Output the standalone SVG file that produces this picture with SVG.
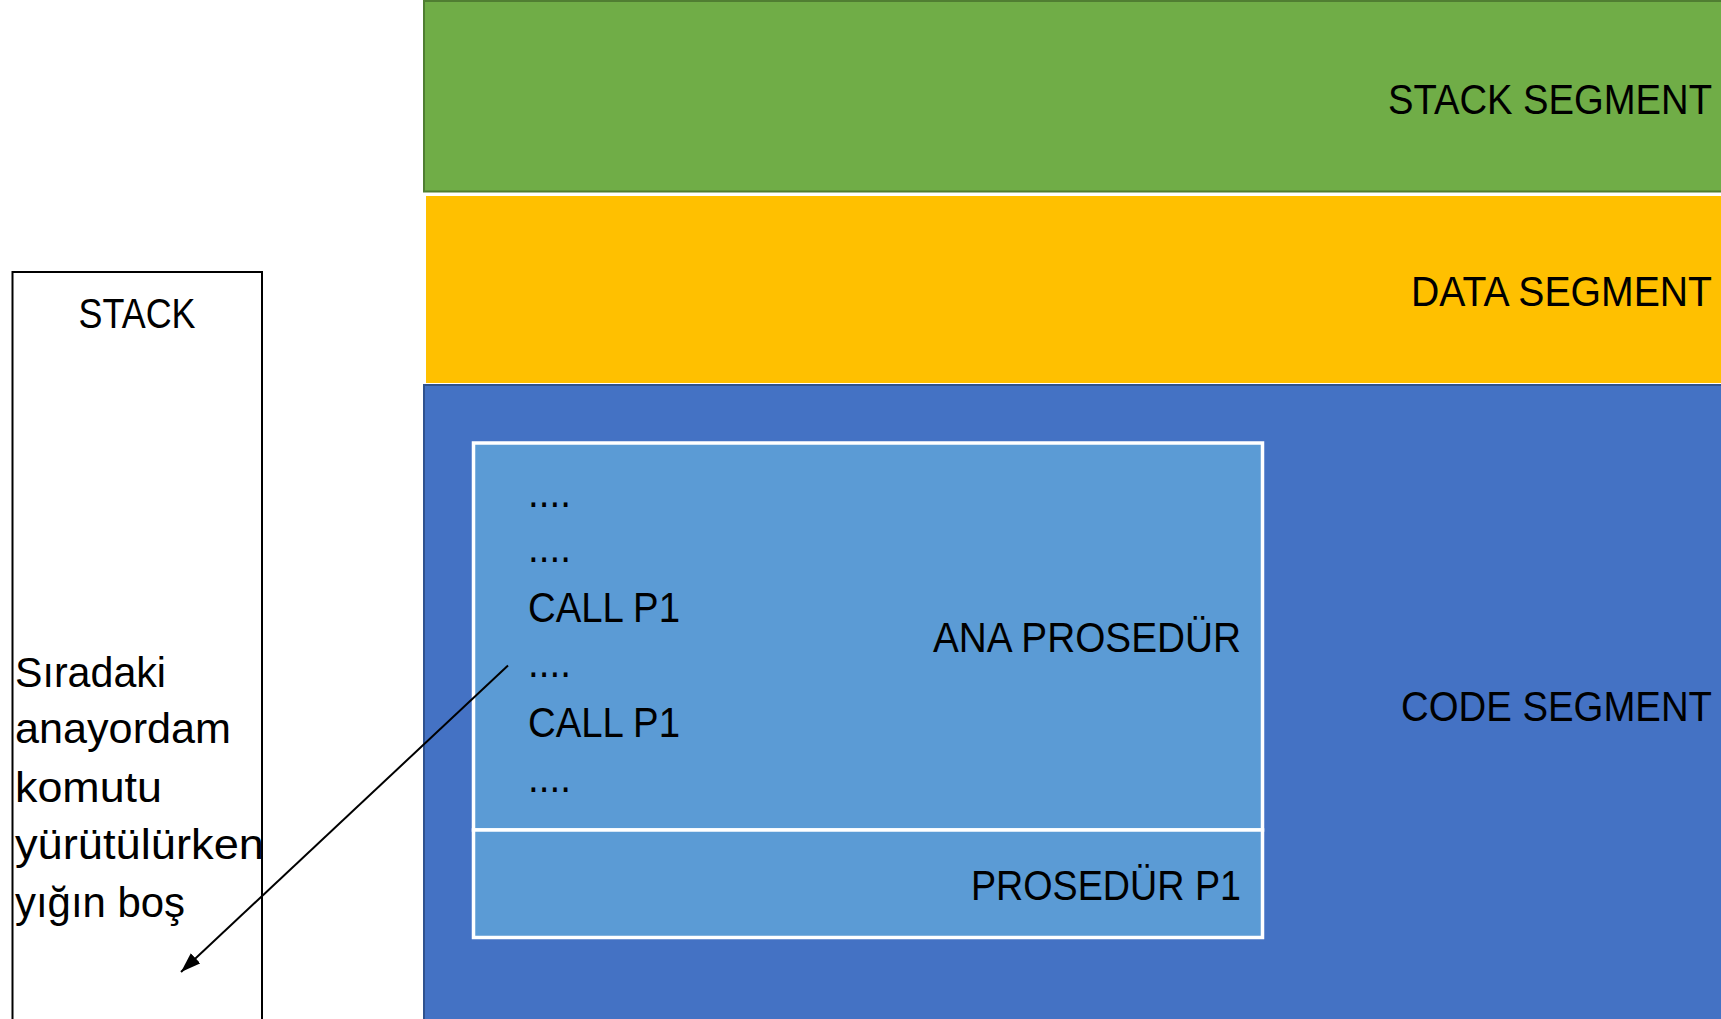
<svg xmlns="http://www.w3.org/2000/svg" width="1721" height="1019" viewBox="0 0 1721 1019">
<style>
.t{font-family:"Liberation Sans",Arial,sans-serif;font-size:43px;fill:#000}
.seg{stroke-width:2}
.proc{fill:#5B9BD5;stroke:#FFFFFF;stroke-width:3.5}
</style>
<defs>
<marker id="arr" viewBox="0 0 10 10" refX="9" refY="5" markerWidth="9" markerHeight="9" markerUnits="userSpaceOnUse" orient="auto">
<path d="M0,0 L10,5 L0,10 z" fill="#000"/>
</marker>
<marker id="arrow" viewBox="0 0 20 14" refX="20" refY="7" markerWidth="20" markerHeight="14" markerUnits="userSpaceOnUse" orient="auto">
<path d="M0,0 L20,7 L0,14 z" fill="#000"/>
</marker>
</defs>
<rect width="1721" height="1019" fill="#FFFFFF"/>
<g id="stack-segment">
<rect x="424" y="1" width="1300" height="190.5" fill="#70AD47" stroke="#507E32" class="seg"/>
<text class="t" x="1388" y="114" textLength="324" lengthAdjust="spacingAndGlyphs">STACK SEGMENT</text>
</g>
<g id="data-segment">
<rect x="426" y="196" width="1298" height="187" fill="#FFC000"/>
<text class="t" x="1411" y="306" textLength="301" lengthAdjust="spacingAndGlyphs">DATA SEGMENT</text>
</g>
<g id="code-segment">
<rect x="424" y="385" width="1300" height="640" fill="#4472C4" stroke="#2F528F" class="seg"/>
<text class="t" x="1401" y="720.5" textLength="311" lengthAdjust="spacingAndGlyphs">CODE SEGMENT</text>
</g>
<g id="ana-prosedur">
<rect x="473.5" y="443" width="789" height="387" class="proc"/>
<text class="t" x="528" y="507" textLength="43" lengthAdjust="spacingAndGlyphs">....</text>
<text class="t" x="528" y="562" textLength="43" lengthAdjust="spacingAndGlyphs">....</text>
<text class="t" x="528" y="622" textLength="152" lengthAdjust="spacingAndGlyphs">CALL P1</text>
<text class="t" x="528" y="677" textLength="43" lengthAdjust="spacingAndGlyphs">....</text>
<text class="t" x="528" y="737" textLength="152" lengthAdjust="spacingAndGlyphs">CALL P1</text>
<text class="t" x="528" y="792" textLength="43" lengthAdjust="spacingAndGlyphs">....</text>
<text class="t" x="933" y="652" textLength="308" lengthAdjust="spacingAndGlyphs">ANA PROSEDÜR</text>
</g>
<g id="prosedur-p1">
<rect x="473.5" y="830" width="789" height="107.5" class="proc"/>
<text class="t" x="971" y="900" textLength="270" lengthAdjust="spacingAndGlyphs">PROSEDÜR P1</text>
</g>
<g id="stack">
<rect x="12.5" y="272" width="249.5" height="760" fill="none" stroke="#000" stroke-width="2"/>
<text class="t" x="78.5" y="327.5" textLength="117" lengthAdjust="spacingAndGlyphs">STACK</text>
<text class="t" x="15" y="686.5" textLength="151" lengthAdjust="spacingAndGlyphs">Sıradaki</text>
<text class="t" x="15" y="743" textLength="216" lengthAdjust="spacingAndGlyphs">anayordam</text>
<text class="t" x="15" y="801.5" textLength="147" lengthAdjust="spacingAndGlyphs">komutu</text>
<text class="t" x="15" y="858.5" textLength="249" lengthAdjust="spacingAndGlyphs">yürütülürken</text>
<text class="t" x="15" y="917" textLength="170" lengthAdjust="spacingAndGlyphs">yığın boş</text>
</g>
<g id="connectors">
<line x1="508" y1="665.5" x2="181" y2="972" stroke="#000" stroke-width="2" marker-end="url(#arrow)"/>
</g>
</svg>
